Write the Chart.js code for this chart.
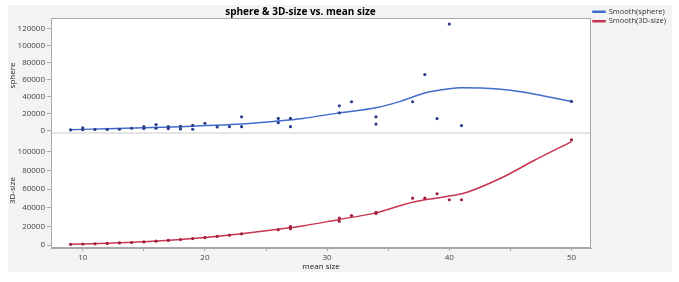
<!DOCTYPE html>
<html>
<head>
<meta charset="utf-8">
<script src="https://cdn.jsdelivr.net/npm/chart.js@4.4.1/dist/chart.umd.min.js"></script>
<style>
  html, body { margin: 0; padding: 0; background: #fff; }
  #wrap { width: 679px; height: 282px; }
</style>
</head>
<body>
<div id="wrap"><canvas id="chart" width="679" height="282"></canvas></div>
<script>
// observed points
const sphereX = [9, 10, 10, 11, 12, 13, 14, 15, 15, 16, 16, 17, 17, 18, 18, 19, 19, 20, 21, 22, 23, 23, 26, 26, 27, 27, 31, 31, 32, 34, 34, 37, 38, 39, 40, 41, 50]
const sphereY = [400, 2800, 700, 1000, 1000, 1200, 2400, 4300, 2000, 6700, 2400, 4300, 2000, 4700, 1600, 5900, 1200, 8300, 3900, 4200, 4200, 15800, 9000, 14000, 4300, 14000, 20500, 28800, 33600, 7300, 15800, 33600, 65700, 13800, 125000, 5500, 34000]

const sizeX = [9, 10, 11, 12, 13, 14, 15, 16, 17, 18, 19, 20, 21, 22, 23, 26, 27, 27, 31, 31, 32, 34, 34, 37, 38, 39, 40, 41, 50]
const sizeY = [700, 1000, 1300, 1700, 2200, 2700, 3300, 4100, 4900, 5800, 6900, 8000, 9200, 10600, 12000, 16500, 17500, 19800, 25500, 29000, 31600, 33800, 35000, 50300, 50300, 55000, 48600, 48600, 112800]

// smoother curves
const sphereSmoothX = [9, 12, 15, 18, 20, 23, 26, 28, 31, 34, 36, 38, 40, 41, 43, 45, 47, 50]
const sphereSmoothY = [700, 1800, 3000, 4300, 5500, 7500, 11000, 14000, 20500, 26500, 34000, 44000, 49000, 50000, 49500, 47000, 42500, 34000]

const sizeSmoothX = [9, 12, 15, 18, 20, 23, 26, 28, 31, 34, 37, 39, 40, 41.4, 44.2, 46.9, 50]
const sizeSmoothY = [700, 1800, 3400, 5900, 8100, 12200, 17000, 20500, 27500, 34500, 46000, 50500, 52500, 56400, 71600, 90400, 111000]

const xTicks = [10, 15, 20, 25, 30, 35, 40, 45, 50]
const sphereTicks = [0, 20000, 40000, 60000, 80000, 100000, 120000]
const sizeTicks = [0, 20000, 40000, 60000, 80000, 100000]

const FONT = "'Open Sans', 'Noto Sans', sans-serif"
const BLUE = "rgb(64, 108, 204)"
const BLUE_PT = "rgb(42, 62, 140)"
const RED = "rgb(200, 52, 82)"
const RED_PT = "rgb(160, 30, 62)"
const FRAME = "#a8a8a8"

const toPts = (xs, ys) => xs.map((x, i) => ({ x: x, y: ys[i] }))

const panelPlugin = {
  id: 'panel',
  beforeLayout(chart) {
    // legend column is a fixed 88px wide, as in the original
    const lg = chart.legend
    if (lg && !lg._fixedWidth) {
      const fit = lg.fit.bind(lg)
      lg.fit = function () { fit(); this.width = 88 }
      lg._fixedWidth = true
    }
  },
  afterLayout(chart) {
    // title centred over frame + axis area
    const t = chart.titleBlock
    if (t) { t.left = 8; t.right = 593; t.width = 585 }
  },
  beforeDraw(chart) {
    const ctx = chart.ctx
    const a = chart.chartArea
    ctx.save()
    ctx.fillStyle = "#fff"
    ctx.fillRect(0, 0, chart.width, chart.height)
    ctx.fillStyle = "#f3f3f3"
    ctx.fillRect(8, 5, 664, 267)
    ctx.fillStyle = "#fff"
    ctx.fillRect(a.left, a.top, a.right - a.left, a.bottom - a.top)
    ctx.restore()
  },
  afterDraw(chart) {
    const ctx = chart.ctx
    const a = chart.chartArea
    const mid = chart.scales.ySphere.bottom
    ctx.save()
    ctx.strokeStyle = FRAME
    ctx.lineWidth = 1
    ctx.strokeRect(a.left + 0.5, a.top + 0.5, a.right - a.left - 1, a.bottom - a.top - 1)
    ctx.strokeStyle = "#e4e4e4"
    ctx.lineWidth = 2
    ctx.beginPath()
    ctx.moveTo(a.left + 1, mid)
    ctx.lineTo(a.right - 1, mid)
    ctx.stroke()
    ctx.restore()
  }
}

const yAxis = (ticks, title, min, max) => ({
  type: 'linear',
  position: 'left',
  stack: 'panels',
  stackWeight: 1,
  min: min,
  max: max,
  afterBuildTicks: (scale) => { scale.ticks = ticks.map(v => ({ value: v })) },
  afterFit: (scale) => { scale.width = 43 },
  grid: { drawOnChartArea: false, drawTicks: true, tickLength: 4, color: FRAME },
  border: { color: FRAME },
  ticks: { color: "#444", font: { family: FONT, size: 8 }, padding: 2, autoSkip: false, callback: (v) => String(v) },
  title: { display: true, text: title, color: "#222", font: { family: FONT, size: 8 }, padding: 0 }
})

new Chart(document.getElementById("chart"), {
  type: 'scatter',
  data: {
    datasets: [
      {
        label: 'sphere',
        data: toPts(sphereX, sphereY),
        yAxisID: 'ySphere',
        backgroundColor: BLUE_PT,
        borderColor: BLUE_PT,
        pointRadius: 1.6,
        borderWidth: 0
      },
      {
        label: 'Smooth(sphere)',
        data: toPts(sphereSmoothX, sphereSmoothY),
        yAxisID: 'ySphere',
        showLine: true,
        cubicInterpolationMode: 'monotone',
        borderColor: BLUE,
        backgroundColor: BLUE,
        borderWidth: 1.5,
        pointRadius: 0
      },
      {
        label: '3D-size',
        data: toPts(sizeX, sizeY),
        yAxisID: 'ySize',
        backgroundColor: RED_PT,
        borderColor: RED_PT,
        pointRadius: 1.6,
        borderWidth: 0
      },
      {
        label: 'Smooth(3D-size)',
        data: toPts(sizeSmoothX, sizeSmoothY),
        yAxisID: 'ySize',
        showLine: true,
        cubicInterpolationMode: 'monotone',
        borderColor: RED,
        backgroundColor: RED,
        borderWidth: 1.5,
        pointRadius: 0
      }
    ]
  },
  options: {
    responsive: false,
    animation: false,
    layout: { padding: { left: 8, top: 6, right: 0, bottom: 10 } },
    plugins: {
      tooltip: { enabled: false },
      title: {
        display: true,
        text: 'sphere & 3D-size vs. mean size',
        color: "#000",
        font: { family: FONT, size: 10, weight: 'bold' },
        padding: { top: 0, bottom: 0 }
      },
      legend: {
        display: true,
        position: 'right',
        align: 'start',
        fullSize: true,
        weight: 3000,
        labels: {
          filter: (item) => item.text.startsWith('Smooth'),
          boxWidth: 12,
          boxHeight: 1,
          padding: 2,
          color: "#333",
          font: { family: FONT, size: 7.5 }
        }
      }
    },
    scales: {
      x: {
        type: 'linear',
        position: 'bottom',
        min: 7.4,
        max: 51.6,
        afterBuildTicks: (scale) => { scale.ticks = xTicks.map(v => ({ value: v })) },
        afterFit: (scale) => { scale.height = 24 },
        grid: { drawOnChartArea: false, drawTicks: true, tickLength: 3, color: FRAME },
        border: { color: FRAME },
        ticks: {
          color: "#444",
          font: { family: FONT, size: 8 },
          padding: 2,
          autoSkip: false,
          maxRotation: 0,
          callback: (v) => v % 10 === 0 ? String(v) : ''
        },
        title: { display: true, text: 'mean size', color: "#222", font: { family: FONT, size: 8 }, padding: 0 }
      },
      ySize: yAxis(sizeTicks, '3D-size', -3200, 120200),
      ySphere: yAxis(sphereTicks, 'sphere', -3200, 132200)
    }
  },
  plugins: [panelPlugin]
})
</script>
</body>
</html>
